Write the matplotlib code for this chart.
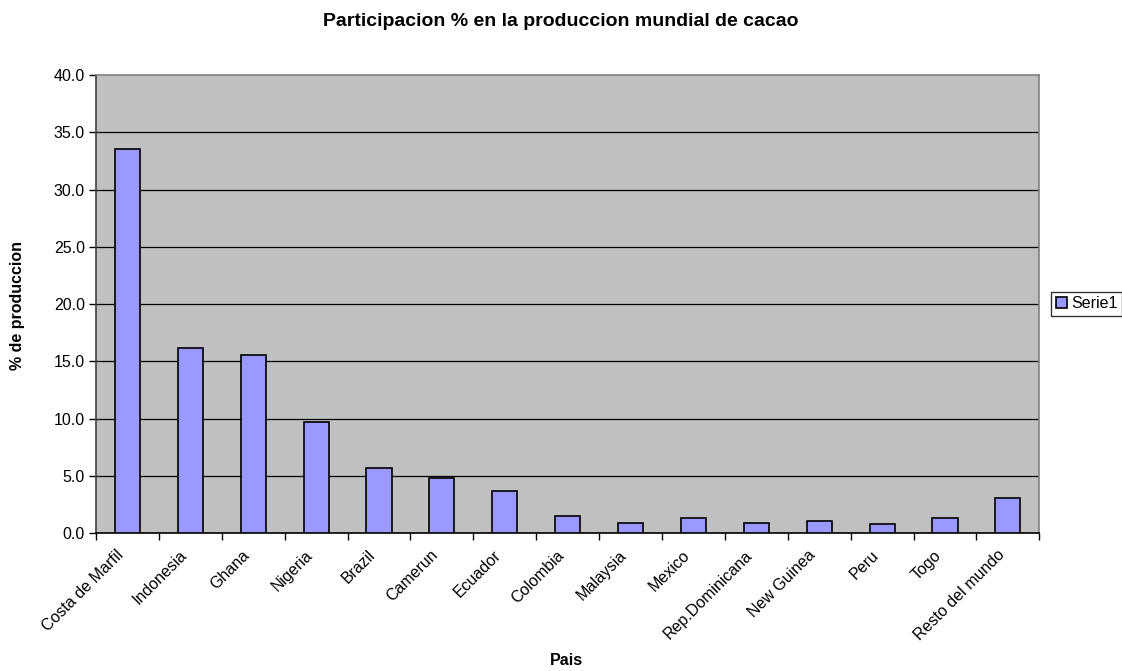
import matplotlib
matplotlib.use("Agg")
import matplotlib.pyplot as plt
import matplotlib.transforms as mtransforms
import numpy as np

plt.rcParams['font.family'] = ['Liberation Sans', 'DejaVu Sans']

categories = ["Costa de Marfil", "Indonesia", "Ghana", "Nigeria", "Brazil", "Camerun",
              "Ecuador", "Colombia", "Malaysia", "Mexico", "Rep.Dominicana", "New Guinea",
              "Peru", "Togo", "Resto del mundo"]
values = [33.5, 16.2, 15.6, 9.7, 5.7, 4.8, 3.7, 1.5, 0.9, 1.3, 0.9, 1.1, 0.8, 1.3, 3.1]
yticks = [0, 5, 10, 15, 20, 25, 30, 35, 40]

fs = 11.5
fig = plt.figure(figsize=(11.22, 6.71), dpi=100)
ax = fig.add_axes([0.0856, 0.2052, 0.8407, 0.683])
ax.set_facecolor('#C0C0C0')
x = np.arange(len(categories))
ax.bar(x, values, width=0.4, color='#9999FF', edgecolor='black', linewidth=1.2,
       label='Serie1', zorder=3)
ax.set_xlim(-0.5, len(categories) - 0.5)
ax.set_ylim(0, 40)
ax.set_yticks(yticks)
ax.set_yticklabels([f"{v:.1f}" for v in yticks], fontsize=fs)
for v in yticks[1:-1]:
    ax.axhline(v, color='black', linewidth=0.9, zorder=1)
ax.set_xticks(x)
ax.set_xticklabels(categories, rotation=45, ha='right', va='center',
                   rotation_mode='anchor', fontsize=fs)
ax.tick_params(axis='x', length=0, pad=14)
offset = mtransforms.ScaledTranslation(-0.06, 0, fig.dpi_scale_trans)
for lab in ax.get_xticklabels():
    lab.set_transform(lab.get_transform() + offset)
ax.set_xticks(np.arange(len(categories) + 1) - 0.5, minor=True)
ax.tick_params(axis='x', which='minor', length=5, width=1, direction='out')
ax.tick_params(axis='y', length=5, width=1, direction='out', pad=3)
for s in ['top', 'right']:
    ax.spines[s].set_color('#808080')
ax.spines['left'].set_color('#404040')
ax.spines['bottom'].set_color('black')
for s in ax.spines.values():
    s.set_linewidth(1.2)

fig.text(0.5, 0.968, "Participacion % en la produccion mundial de cacao", ha='center',
         va='center', fontsize=14, fontweight='bold')
fig.text(0.505, 0.015, "Pais", ha='center', va='center', fontsize=fs, fontweight='bold')
fig.text(0.0155, 0.545, "% de produccion", ha='center', va='center', rotation=90,
         fontsize=fs, fontweight='bold')

leg = fig.legend(loc='center left', bbox_to_anchor=(0.937, 0.547), fontsize=fs,
                 frameon=True, fancybox=False, edgecolor='black', handlelength=0.7,
                 handleheight=0.7, handletextpad=0.25, borderpad=0.3, borderaxespad=0)
leg.get_frame().set_linewidth(1.0)

fig.savefig("out.png", dpi=100)
